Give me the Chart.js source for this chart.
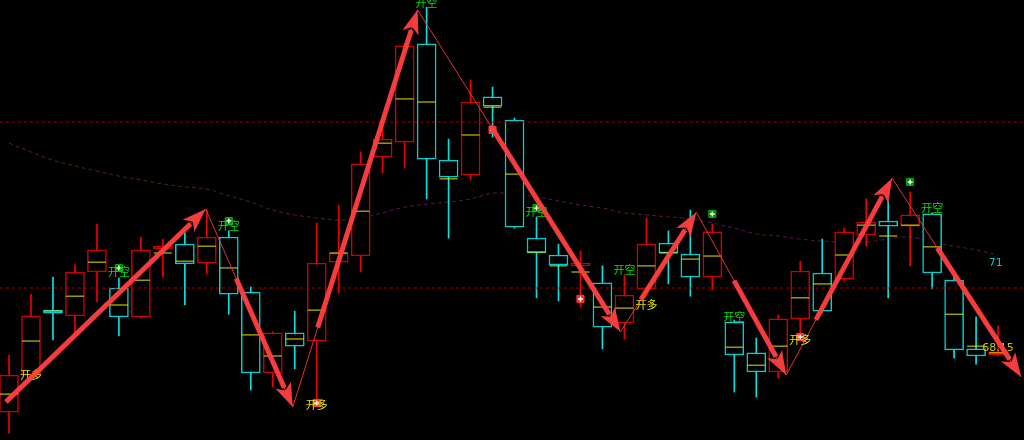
<!DOCTYPE html>
<html>
<head>
<meta charset="utf-8">
<script src="https://cdn.jsdelivr.net/npm/chart.js@4/dist/chart.umd.min.js"></script>
<style>
  html, body { margin: 0; background: #000; }
  #wrap { width: 1024px; height: 440px; }
</style>
</head>
<body>
<div id="wrap"><canvas id="kline"></canvas></div>
<script>
// candle prices, one entry per bar (left to right)
const open = [66.38, 67.47, 69.38, 69.21, 70.50, 70.03, 69.18, 71.18, 71.32, 70.76,
  71.53, 69.91, 67.53, 68.71, 68.47, 70.79, 70.97, 73.88, 74.32, 77.21,
  73.79, 73.35, 75.65, 74.97, 71.50, 71.00, 70.68, 70.18, 69.00, 70.00,
  71.35, 71.03, 70.35, 69.03, 68.12, 67.56, 69.12, 70.47, 70.29, 71.59,
  72.00, 71.85, 72.21, 70.26, 68.24, 68.06];
const close = [67.47, 69.21, 69.29, 70.50, 71.15, 69.18, 71.15, 71.26, 70.74, 71.53,
  69.85, 67.53, 68.71, 68.32, 70.76, 71.06, 73.68, 74.41, 77.15, 73.82,
  73.29, 75.50, 75.38, 71.82, 71.06, 70.71, 70.76, 68.88, 69.82, 71.32,
  71.06, 70.35, 71.68, 68.06, 67.56, 69.12, 70.53, 69.35, 71.68, 71.97,
  71.85, 72.18, 70.47, 68.21, 68.03, 68.15];
const high = [68.06, 69.85, 70.35, 70.71, 71.91, 70.32, 71.53, 71.47, 71.65, 72.35,
  71.71, 70.06, 68.74, 69.35, 71.94, 72.47, 74.03, 74.74, 77.21, 78.29,
  74.41, 76.15, 75.94, 75.03, 72.12, 71.32, 71.12, 70.68, 70.41, 72.09,
  71.71, 72.32, 71.91, 69.09, 68.56, 69.24, 70.82, 71.47, 71.79, 72.65,
  72.59, 72.85, 72.24, 70.47, 69.18, 68.91];
const low = [65.76, 67.38, 68.50, 68.71, 69.62, 68.62, 69.15, 70.35, 69.53, 70.44,
  69.26, 67.03, 67.12, 67.65, 66.59, 69.88, 70.50, 73.41, 73.56, 72.65,
  71.50, 73.21, 74.47, 71.79, 69.74, 69.65, 69.47, 68.24, 68.53, 70.00,
  70.15, 69.79, 69.97, 66.97, 66.82, 67.38, 68.56, 69.32, 70.24, 71.26,
  69.74, 70.68, 70.00, 67.97, 67.79, 68.03];
const mid = [66.91, 68.47, 69.35, 69.79, 70.79, 69.53, 70.26, 71.06, 70.82, 71.26,
  70.62, 68.65, 68.03, 68.53, 69.38, 71.06, 72.29, 74.29, 75.59, 75.50,
  73.24, 74.53, 75.35, 73.38, 71.09, 70.68, 70.50, 69.47, 69.44, 70.68,
  71.06, 70.88, 70.97, 68.29, 67.76, 68.32, 69.74, 70.15, 71.00, 71.88,
  71.56, 71.88, 71.24, 69.26, 68.32, 68.12];
const ma = [74.29, 74.03, 73.79, 73.62, 73.47, 73.32, 73.21, 73.09, 73.00, 72.94,
  72.74, 72.56, 72.32, 72.18, 72.09, 72.03, 72.09, 72.24, 72.41, 72.50,
  72.56, 72.65, 72.82, 72.79, 72.71, 72.59, 72.47, 72.38, 72.24, 72.18,
  72.12, 72.06, 71.94, 71.79, 71.62, 71.56, 71.47, 71.41, 71.38, 71.38,
  71.47, 71.53, 71.38, 71.26, 71.15, 71.00];

// horizontal dotted levels
const levels = [74.91, 70.03];

// zigzag pivots (bar position, price) and where each thick arrow starts along its leg
const pivotIdx = [-0.14, 8.95, 12.91, 18.59, 27.82, 31.27, 35.36, 40.18, 46.05];
const pivotPrice = [66.68, 72.35, 66.53, 78.21, 68.74, 72.26, 67.47, 73.26, 67.41];
const arrowFrom = [0, 0.35, 0.2, 0.36, 0.27, 0.42, 0.28, 0.35];

// signal texts
const signalIdx = [1, 5, 10, 14, 19, 24, 28, 29, 33, 36, 42];
const signalPrice = [67.47, 70.50, 71.85, 66.59, 78.41, 72.26, 70.56, 69.53, 69.18, 68.50, 72.38];
const signalText = ['开多', '开空', '开空', '开多', '开空', '开空', '开空', '开多', '开空', '开多', '开空'];

// signal markers
const shortMarkIdx = [5, 10, 24, 32, 41];
const shortMarkPrice = [70.62, 72.00, 72.38, 72.21, 73.15];
const longMarkIdx = [14, 22, 26, 36];
const longMarkPrice = [66.65, 74.68, 69.71, 68.59];

// value tags at the right edge
const tagIdx = [44.9, 45.0];
const tagPrice = [70.76, 68.26];
const tagText = ['71', '68.15'];

const RED_BODY = '#d00000';
const CYAN_BODY = '#00d0d0';
const RED_WICK = '#ee0000';
const CYAN_WICK = '#00e4e4';

const isUp = (i) => close[i] >= open[i];
const pts = (xs, ys) => xs.map((v, i) => ({ x: v, y: ys[i] }));

const bodyData = open.map((o, i) => ({ x: i, y: [o, close[i]] }));
const wickData = low.map((l, i) => ({ x: i, y: [l, high[i]] }));
const midData = mid.map((m, i) => ({ x: i, y: m }));
const maData = ma.map((m, i) => ({ x: i, y: m }));

const X_MIN = -0.41;
const X_MAX = 46.18;

const overlayPlugin = {
  id: 'overlay',
  afterDatasetsDraw(chart) {
    const { ctx } = chart;
    const xs = chart.scales.x;
    const ys = chart.scales.y;
    ctx.save();

    ctx.textAlign = 'center';
    ctx.textBaseline = 'middle';
    ctx.font = '11px "Noto Sans CJK SC"';
    signalText.forEach((t, i) => {
      ctx.fillStyle = t === '开多' ? '#e0e000' : '#00e000';
      ctx.fillText(t, xs.getPixelForValue(signalIdx[i]), ys.getPixelForValue(signalPrice[i]));
    });

    const tagColors = ['#00c8d0', '#c8c800'];
    ctx.font = '11px "DejaVu Sans"';
    tagText.forEach((t, i) => {
      ctx.fillStyle = tagColors[i];
      ctx.fillText(t, xs.getPixelForValue(tagIdx[i]), ys.getPixelForValue(tagPrice[i]));
    });

    // thick arrows along the zigzag legs
    ctx.strokeStyle = 'rgba(255,62,62,0.96)';
    ctx.fillStyle = 'rgba(255,62,62,0.96)';
    ctx.lineWidth = 5;
    for (let i = 0; i < pivotIdx.length - 1; i++) {
      const x0 = xs.getPixelForValue(pivotIdx[i]);
      const y0 = ys.getPixelForValue(pivotPrice[i]);
      const x1 = xs.getPixelForValue(pivotIdx[i + 1]);
      const y1 = ys.getPixelForValue(pivotPrice[i + 1]);
      const dx = x1 - x0;
      const dy = y1 - y0;
      const len = Math.hypot(dx, dy);
      const ux = dx / len;
      const uy = dy / len;
      const sx = x0 + dx * arrowFrom[i];
      const sy = y0 + dy * arrowFrom[i];
      const head = 24;
      const half = 8.5;
      const bx = x1 - ux * head;
      const by = y1 - uy * head;
      ctx.beginPath();
      ctx.moveTo(sx, sy);
      ctx.lineTo(bx + ux * 3, by + uy * 3);
      ctx.stroke();
      ctx.beginPath();
      ctx.moveTo(x1, y1);
      ctx.lineTo(bx - uy * half, by + ux * half);
      ctx.lineTo(bx + ux * 6, by + uy * 6);
      ctx.lineTo(bx + uy * half, by - ux * half);
      ctx.closePath();
      ctx.fill();
    }
    ctx.restore();
  },
};

new Chart(document.getElementById('kline'), {
  type: 'bar',
  data: {
    datasets: [
      {
        type: 'line',
        data: pts(shortMarkIdx, shortMarkPrice),
        showLine: false,
        pointStyle: 'cross',
        pointRadius: 2.5,
        pointBorderColor: '#ffffff',
        pointBorderWidth: 1.5,
        order: 0,
      },
      {
        type: 'line',
        data: pts(shortMarkIdx, shortMarkPrice),
        showLine: false,
        pointStyle: 'rect',
        pointRadius: 5,
        pointBackgroundColor: '#008400',
        pointBorderColor: '#00b400',
        pointBorderWidth: 1,
        order: 1,
      },
      {
        type: 'line',
        data: pts(longMarkIdx, longMarkPrice),
        showLine: false,
        pointStyle: 'cross',
        pointRadius: 2.5,
        pointBorderColor: '#ffffff',
        pointBorderWidth: 1.5,
        order: 2,
      },
      {
        type: 'line',
        data: pts(longMarkIdx, longMarkPrice),
        showLine: false,
        pointStyle: 'rect',
        pointRadius: 5,
        pointBackgroundColor: '#ff2020',
        pointBorderColor: '#ff4040',
        pointBorderWidth: 1,
        order: 3,
      },
      {
        type: 'line',
        data: pts(pivotIdx, pivotPrice),
        borderColor: '#e83030',
        borderWidth: 1,
        pointRadius: 0,
        tension: 0,
        order: 4,
      },
      ...levels.map((lv) => ({
        type: 'line',
        data: [{ x: X_MIN, y: lv }, { x: X_MAX, y: lv }],
        borderColor: '#9a0000',
        borderWidth: 1,
        borderDash: [3, 3],
        pointRadius: 0,
        order: 5,
      })),
      {
        type: 'line',
        data: midData,
        showLine: false,
        pointStyle: 'line',
        pointRadius: 9,
        pointBorderColor: '#e6e600',
        pointBorderWidth: 1,
        order: 6,
      },
      {
        type: 'bar',
        data: bodyData,
        grouped: false,
        barThickness: 19,
        backgroundColor: '#000000',
        borderColor: open.map((_, i) => (isUp(i) ? RED_BODY : CYAN_BODY)),
        borderWidth: 1.5,
        borderSkipped: false,
        order: 7,
      },
      {
        type: 'bar',
        data: wickData,
        grouped: false,
        barThickness: 1,
        backgroundColor: open.map((_, i) => (isUp(i) ? RED_WICK : CYAN_WICK)),
        borderWidth: 0,
        order: 8,
      },
      {
        type: 'line',
        data: maData,
        borderColor: '#5a1452',
        borderWidth: 1,
        borderDash: [4, 3],
        pointRadius: 0,
        tension: 0.4,
        order: 9,
      },
    ],
  },
  options: {
    responsive: true,
    maintainAspectRatio: false,
    animation: false,
    layout: { padding: 0, autoPadding: false },
    plugins: {
      legend: { display: false },
      tooltip: { enabled: false },
    },
    scales: {
      x: { type: 'linear', min: X_MIN, max: X_MAX, offset: false, display: false },
      y: { type: 'linear', min: 65.56, max: 78.5, display: false },
    },
  },
  plugins: [overlayPlugin],
});
</script>
</body>
</html>
